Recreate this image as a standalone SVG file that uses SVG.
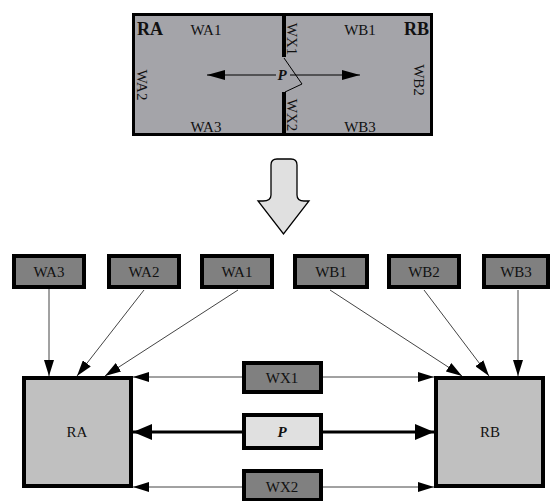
<svg xmlns="http://www.w3.org/2000/svg" width="552" height="501" viewBox="0 0 552 501">
<defs>
<style>
text{font-family:"Liberation Serif","Times New Roman",serif;font-size:15px;fill:#111;}
.c{text-anchor:middle;dominant-baseline:central;}
.b{font-weight:bold;}
.bi{font-weight:bold;font-style:italic;}
.box{stroke:#000;stroke-width:4;}
.dk{fill:#808080;}
.lt{fill:#e0e0e0;}
.rm{fill:#c0c0c0;stroke:#000;stroke-width:4;}
.thin{stroke:#444;stroke-width:1;fill:none;}
.thick{stroke:#000;stroke-width:3;fill:none;}
</style>
<marker id="ah" viewBox="0 0 16 10" refX="16" refY="5" markerWidth="16" markerHeight="10" markerUnits="userSpaceOnUse" orient="auto">
<path d="M0,0 L16,5 L0,10 Z" fill="#000"/>
</marker>
<marker id="ahb" viewBox="0 0 19 16" refX="19" refY="8" markerWidth="19" markerHeight="16" markerUnits="userSpaceOnUse" orient="auto">
<path d="M0,0 L19,8 L0,16 Z" fill="#000"/>
</marker>
<marker id="ahp" viewBox="0 0 18 10" refX="18" refY="5" markerWidth="18" markerHeight="10" markerUnits="userSpaceOnUse" orient="auto">
<path d="M0,0 L18,5 L0,10 Z" fill="#000"/>
</marker>
</defs>

<g id="plan">
<rect x="133.5" y="14.5" width="298" height="120" fill="#a4a4a9" stroke="#000" stroke-width="3"/>
<line x1="284" y1="13" x2="284" y2="57" stroke="#000" stroke-width="4"/>
<line x1="284" y1="92" x2="284" y2="136" stroke="#000" stroke-width="4"/>
<polyline points="284,58 302,84 285,92" fill="none" stroke="#000" stroke-width="1"/>
<line x1="276" y1="75" x2="207" y2="75" stroke="#000" stroke-width="1" marker-end="url(#ahp)"/>
<line x1="290" y1="75" x2="360" y2="75" stroke="#000" stroke-width="1" marker-end="url(#ahp)"/>
<text x="282" y="75" class="c bi">P</text>
<text x="137" y="35" class="b" font-size="18" style="font-size:18px">RA</text>
<text x="429" y="35" class="b" text-anchor="end" style="font-size:18px">RB</text>
<text x="206" y="30" class="c">WA1</text>
<text x="360" y="30" class="c">WB1</text>
<text x="206" y="127" class="c">WA3</text>
<text x="360" y="127" class="c">WB3</text>
<text class="c" transform="translate(142,85) rotate(90)">WA2</text>
<text class="c" transform="translate(419,80) rotate(90)">WB2</text>
<text class="c" transform="translate(292,39) rotate(90)">WX1</text>
<text class="c" transform="translate(292,115) rotate(90)">WX2</text>
</g>

<g id="down-arrow">
<path d="M271,165 Q271,159 277,159 L291,159 Q297,159 297,165 L297,195 Q297,201 304,201 L309,201 L283.5,234 L258,201 L263,201 Q271,201 271,195 Z" fill="#e0e0e0" stroke="#000" stroke-width="1.3"/>
</g>

<g id="connectors">
<line class="thin" x1="49" y1="289" x2="49" y2="376" marker-end="url(#ah)"/>
<line class="thin" x1="144" y1="290" x2="77" y2="376" marker-end="url(#ah)"/>
<line class="thin" x1="238" y1="290" x2="105" y2="376" marker-end="url(#ah)"/>
<line class="thin" x1="330" y1="290" x2="462" y2="376" marker-end="url(#ah)"/>
<line class="thin" x1="424" y1="290" x2="489" y2="376" marker-end="url(#ah)"/>
<line class="thin" x1="518" y1="290" x2="518" y2="376" marker-end="url(#ah)"/>
<line class="thin" x1="242" y1="377" x2="133" y2="377" marker-end="url(#ah)"/>
<line class="thin" x1="323" y1="377" x2="434" y2="377" marker-end="url(#ah)"/>
<line class="thick" x1="242" y1="432" x2="133" y2="432" marker-end="url(#ahb)"/>
<line class="thick" x1="323" y1="432" x2="434" y2="432" marker-end="url(#ahb)"/>
<line class="thin" x1="242" y1="487" x2="133" y2="487" marker-end="url(#ah)"/>
<line class="thin" x1="323" y1="487" x2="434" y2="487" marker-end="url(#ah)"/>
</g>

<g id="WA3"><rect class="box dk" x="14" y="256" width="70" height="31"/><text x="49" y="272" class="c">WA3</text></g>
<g id="WA2"><rect class="box dk" x="109" y="256" width="70" height="31"/><text x="144" y="272" class="c">WA2</text></g>
<g id="WA1"><rect class="box dk" x="202" y="256" width="70" height="31"/><text x="237" y="272" class="c">WA1</text></g>
<g id="WB1"><rect class="box dk" x="295" y="256" width="72" height="31"/><text x="331" y="272" class="c">WB1</text></g>
<g id="WB2"><rect class="box dk" x="389" y="256" width="70" height="31"/><text x="424" y="272" class="c">WB2</text></g>
<g id="WB3"><rect class="box dk" x="484" y="256" width="64" height="31"/><text x="516" y="272" class="c">WB3</text></g>

<g id="RA"><rect class="rm" x="24" y="378" width="107" height="108"/><text x="77" y="432" class="c">RA</text></g>
<g id="RB"><rect class="rm" x="436" y="378" width="107" height="108"/><text x="490" y="432" class="c">RB</text></g>

<g id="WX1"><rect class="box dk" x="244" y="363" width="77" height="29"/><text x="282" y="378" class="c">WX1</text></g>
<g id="P"><rect class="box lt" x="244" y="415" width="77" height="33"/><text x="282" y="432" class="c bi">P</text></g>
<g id="WX2"><rect class="box dk" x="244" y="471" width="77" height="29"/><text x="282" y="487" class="c">WX2</text></g>
</svg>
